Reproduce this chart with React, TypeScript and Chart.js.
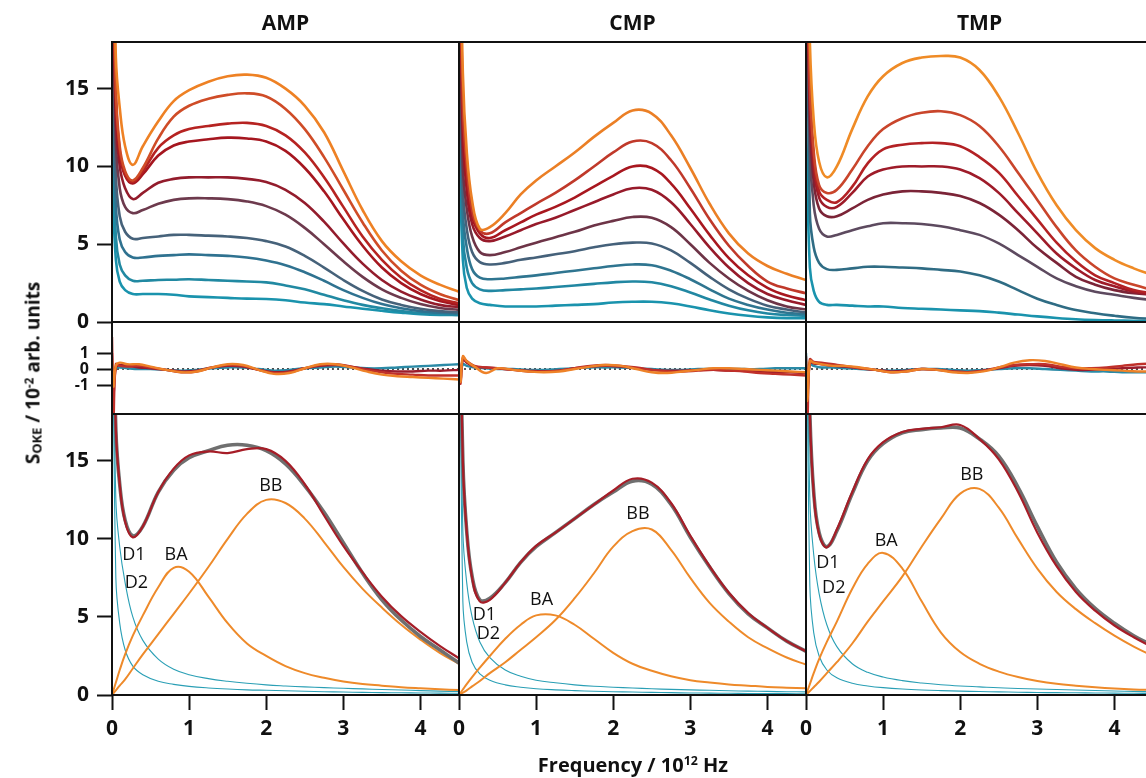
import React, { useEffect, useRef } from "react";
import { Chart, registerables } from "chart.js";

Chart.register(...registerables);

const FONT = "'Open Sans', 'DejaVu Sans', sans-serif";

// ---------- shared axes ----------
const freqGrid = [0, 0.05, 0.1, 0.17, 0.27, 0.4, 0.6, 0.8, 1.0, 1.25, 1.5, 1.75, 2.0, 2.25, 2.5, 2.75, 3.0, 3.25, 3.5, 3.75, 4.0, 4.25, 4.5];
const residGrid = [0, 0.02, 0.05, 0.1, 0.2, 0.35, 0.5, 0.7, 0.9, 1.1, 1.3, 1.5, 1.7, 1.9, 2.1, 2.3, 2.5, 2.7, 2.9, 3.1, 3.3, 3.5, 3.7, 3.9, 4.1, 4.3, 4.5];
const freqTicks = [0, 1, 2, 3, 4];
const sokeTicks = [0, 5, 10, 15];
const residTicks = [-1, 0, 1];
const compounds = ["AMP", "CMP", "TMP"];

// ---------- AMP spectra (bottom -> top) ----------
const amp1 = [9.5, 4.0, 2.6, 2.05, 1.8, 1.8, 1.8, 1.75, 1.65, 1.6, 1.55, 1.5, 1.48, 1.4, 1.25, 1.15, 1.0, 0.85, 0.72, 0.6, 0.5, 0.45, 0.45];
const amp2 = [13, 5.5, 3.7, 3.0, 2.65, 2.65, 2.7, 2.72, 2.75, 2.7, 2.65, 2.6, 2.55, 2.35, 2.1, 1.75, 1.4, 1.1, 0.88, 0.7, 0.57, 0.5, 0.45];
const amp3 = [17, 7.5, 5.3, 4.5, 4.15, 4.15, 4.25, 4.3, 4.35, 4.3, 4.25, 4.15, 3.95, 3.65, 3.2, 2.65, 2.05, 1.55, 1.15, 0.88, 0.7, 0.6, 0.55];
const amp4 = [22, 9.5, 6.8, 5.8, 5.35, 5.4, 5.5, 5.6, 5.6, 5.55, 5.5, 5.4, 5.2, 4.85, 4.25, 3.5, 2.7, 2.0, 1.45, 1.1, 0.85, 0.7, 0.62];
const amp5 = [25, 11.5, 8.6, 7.4, 7.0, 7.2, 7.6, 7.85, 7.95, 7.95, 7.9, 7.75, 7.45, 6.9, 6.05, 5.0, 3.9, 2.9, 2.1, 1.55, 1.15, 0.9, 0.78];
const amp6 = [28, 13, 10, 8.6, 7.9, 8.3, 8.95, 9.2, 9.3, 9.3, 9.3, 9.2, 9.0, 8.5, 7.65, 6.45, 5.05, 3.75, 2.7, 1.95, 1.45, 1.1, 0.95];
const amp7 = [30, 14, 10.8, 9.4, 8.9, 9.5, 10.7, 11.35, 11.6, 11.75, 11.85, 11.8, 11.6, 11.0, 9.9, 8.4, 6.6, 4.9, 3.5, 2.5, 1.8, 1.35, 1.1];
const amp8 = [30, 14.5, 11, 9.5, 9.0, 9.7, 11.2, 12.0, 12.4, 12.6, 12.75, 12.8, 12.6, 12.0, 10.9, 9.3, 7.4, 5.5, 4.0, 2.85, 2.05, 1.5, 1.2];
const amp9 = [30, 15, 11.3, 9.7, 9.1, 9.9, 11.8, 13.2, 13.9, 14.35, 14.6, 14.7, 14.5, 13.7, 12.4, 10.6, 8.5, 6.4, 4.6, 3.3, 2.4, 1.8, 1.4];
const amp10 = [30, 17, 13.8, 11.3, 10.1, 11.3, 12.9, 14.2, 14.9, 15.45, 15.8, 15.9, 15.7, 15.0, 13.9, 12.2, 9.7, 7.2, 5.2, 3.9, 3.0, 2.4, 1.95];
const ampColors = ["#1a93ad", "#2189a2", "#2f7290", "#46627a", "#6d3a4d", "#931c2c", "#a5161f", "#b62321", "#cf4c27", "#ee8124"];

// ---------- CMP spectra ----------
const cmp1 = [12, 4.0, 2.2, 1.5, 1.2, 1.1, 1.0, 1.0, 1.0, 1.05, 1.1, 1.15, 1.25, 1.3, 1.3, 1.2, 1.0, 0.75, 0.55, 0.4, 0.3, 0.25, 0.25];
const cmp2 = [15, 5.5, 3.5, 2.5, 2.1, 2.0, 2.05, 2.1, 2.15, 2.25, 2.35, 2.45, 2.55, 2.6, 2.55, 2.3, 1.9, 1.45, 1.05, 0.75, 0.55, 0.45, 0.4];
const cmp3 = [18, 7.0, 4.8, 3.4, 2.85, 2.75, 2.8, 2.9, 3.0, 3.15, 3.3, 3.45, 3.6, 3.7, 3.65, 3.3, 2.75, 2.1, 1.5, 1.1, 0.8, 0.6, 0.5];
const cmp4 = [22, 8.5, 6.0, 4.5, 3.85, 3.7, 3.8, 4.0, 4.15, 4.35, 4.55, 4.8, 5.0, 5.1, 5.05, 4.6, 3.8, 2.9, 2.1, 1.5, 1.05, 0.8, 0.6];
const cmp5 = [25, 10, 7.3, 5.5, 4.5, 4.3, 4.5, 4.8, 5.1, 5.45, 5.8, 6.2, 6.5, 6.75, 6.7, 6.1, 5.0, 3.8, 2.8, 2.0, 1.4, 1.0, 0.8];
const cmp6 = [30, 12, 8.5, 6.3, 5.4, 5.2, 5.5, 5.9, 6.3, 6.7, 7.2, 7.7, 8.2, 8.6, 8.5, 7.7, 6.3, 4.8, 3.5, 2.5, 1.8, 1.4, 1.1];
const cmp7 = [30, 13, 9.3, 6.8, 5.7, 5.4, 5.9, 6.4, 6.9, 7.4, 8.0, 8.7, 9.4, 10.0, 9.9, 8.9, 7.3, 5.6, 4.1, 3.0, 2.2, 1.7, 1.4];
const cmp8 = [30, 14, 10, 7.2, 5.9, 5.7, 6.4, 7.0, 7.6, 8.3, 9.1, 10.0, 10.9, 11.6, 11.5, 10.4, 8.6, 6.6, 4.9, 3.6, 2.6, 2.15, 1.85];
const cmp9 = [30, 16, 11, 7.8, 6.0, 6.1, 7.0, 8.2, 9.1, 10.0, 10.9, 11.9, 12.8, 13.6, 13.4, 12.0, 9.9, 7.6, 5.7, 4.4, 3.6, 3.1, 2.7];
const cmpColors = ["#1a93ad", "#2187a2", "#2f7590", "#45617a", "#6d3447", "#971a2a", "#a8171f", "#c0392a", "#eb7f25"];

// ---------- TMP spectra ----------
const tmp1 = [13, 3.5, 2.0, 1.3, 1.1, 1.1, 1.05, 1.0, 1.0, 0.9, 0.85, 0.8, 0.75, 0.7, 0.6, 0.48, 0.36, 0.26, 0.18, 0.13, 0.1, 0.08, 0.06];
const tmp2 = [30, 7.0, 4.8, 3.8, 3.4, 3.35, 3.45, 3.55, 3.55, 3.5, 3.45, 3.35, 3.25, 3.0, 2.6, 2.05, 1.5, 1.1, 0.77, 0.56, 0.4, 0.27, 0.2];
const tmp3 = [30, 11, 7.5, 6.0, 5.5, 5.6, 5.9, 6.15, 6.35, 6.35, 6.3, 6.15, 5.9, 5.6, 5.05, 4.3, 3.55, 2.8, 2.3, 1.95, 1.75, 1.55, 1.4];
const tmp4 = [30, 13, 9.0, 7.3, 6.8, 6.8, 7.3, 7.85, 8.2, 8.4, 8.4, 8.3, 8.1, 7.65, 6.9, 5.9, 4.75, 3.8, 2.9, 2.4, 2.05, 1.85, 1.75];
const tmp5 = [30, 14, 10.0, 8.0, 7.4, 7.4, 8.3, 9.35, 9.8, 10.0, 10.0, 10.0, 9.8, 9.25, 8.3, 7.0, 5.7, 4.4, 3.45, 2.7, 2.3, 1.95, 1.75];
const tmp6 = [30, 15, 10.5, 8.4, 7.85, 7.7, 8.7, 10.2, 11.1, 11.4, 11.5, 11.5, 11.3, 10.6, 9.6, 8.1, 6.6, 5.1, 3.9, 3.0, 2.5, 2.05, 1.85];
const tmp7 = [30, 15.5, 11.0, 8.8, 8.3, 8.5, 9.8, 11.3, 12.4, 13.1, 13.45, 13.55, 13.3, 12.6, 11.3, 9.6, 7.85, 6.1, 4.6, 3.55, 2.8, 2.4, 2.05];
const tmp8 = [30, 18, 13.0, 10.3, 9.3, 10.0, 12.4, 14.5, 15.8, 16.65, 17.0, 17.1, 17.0, 16.2, 14.5, 12.15, 9.6, 7.5, 5.9, 4.75, 4.0, 3.45, 3.0];
const tmpColors = ["#1a93ad", "#2f6c84", "#5d4a5f", "#7b2437", "#9e1b29", "#b32124", "#c9452b", "#ef8b26"];

// ---------- residuals ----------
const ampResTeal = [0.5, -0.5, 0.05, 0.1, 0.05, 0.0, 0.0, -0.05, -0.1, -0.05, 0.05, 0.1, 0.1, 0.0, -0.1, -0.05, 0.05, 0.1, 0.15, 0.1, 0.05, 0.05, 0.1, 0.15, 0.2, 0.25, 0.3];
const ampResDark = [1.0, -1.5, 0.1, 0.25, 0.2, 0.1, 0.05, -0.05, -0.15, -0.1, 0.1, 0.2, 0.15, -0.05, -0.2, -0.15, 0.05, 0.2, 0.25, 0.15, 0.0, -0.1, -0.15, -0.15, -0.1, -0.1, -0.05];
const ampResRed = [2.0, -2.9, 0.3, 0.2, 0.15, 0.2, 0.1, -0.05, -0.2, -0.15, 0.1, 0.25, 0.2, -0.05, -0.25, -0.2, 0.05, 0.25, 0.3, 0.15, -0.05, -0.2, -0.3, -0.35, -0.4, -0.4, -0.4];
const ampResOrange = [0.5, -1.1, 0.2, 0.4, 0.3, 0.3, 0.15, -0.05, -0.2, -0.15, 0.1, 0.3, 0.25, -0.05, -0.3, -0.25, 0.05, 0.3, 0.3, 0.1, -0.15, -0.35, -0.45, -0.5, -0.55, -0.6, -0.65];

const cmpResTeal = [0.1, -0.3, 0.3, 0.2, 0.1, 0.05, 0.0, 0.0, -0.05, -0.05, 0.0, 0.05, 0.1, 0.1, 0.1, 0.05, 0.0, -0.05, -0.05, 0.0, 0.0, 0.0, 0.0, 0.0, 0.05, 0.05, 0.05];
const cmpResDark = [-0.3, -0.7, 0.6, 0.4, 0.15, 0.1, 0.05, -0.05, -0.1, -0.15, -0.1, 0.05, 0.15, 0.2, 0.15, 0.05, -0.05, -0.1, -0.1, -0.05, -0.05, -0.1, -0.1, -0.15, -0.2, -0.2, -0.25];
const cmpResRed = [-0.5, -0.9, 0.7, 0.5, 0.2, 0.1, 0.05, -0.05, -0.15, -0.15, -0.1, 0.05, 0.2, 0.25, 0.2, 0.1, -0.05, -0.15, -0.15, -0.1, -0.05, -0.1, -0.15, -0.25, -0.3, -0.35, -0.4];
const cmpResOrange = [0.3, -0.8, 0.8, 0.5, 0.15, -0.25, 0.05, -0.05, -0.15, -0.2, -0.15, 0.0, 0.15, 0.25, 0.2, 0.0, -0.2, -0.25, -0.15, -0.05, 0.05, 0.05, 0.0, -0.05, -0.1, -0.15, -0.2];

const tmpResTeal = [1.0, -1.0, 0.3, 0.2, 0.1, 0.1, 0.05, 0.0, -0.05, -0.1, -0.05, 0.0, 0.0, -0.05, -0.1, -0.05, 0.0, 0.05, 0.05, 0.0, -0.05, -0.1, -0.15, -0.15, -0.2, -0.2, -0.2];
const tmpResDark = [0.3, -1.5, 0.4, 0.35, 0.3, 0.2, 0.15, 0.05, -0.05, -0.15, -0.1, 0.0, -0.05, -0.15, -0.2, -0.1, 0.05, 0.2, 0.25, 0.2, 0.05, -0.05, -0.05, 0.0, 0.05, 0.1, 0.1];
const tmpResRed = [0.8, -2.8, 0.6, 0.45, 0.4, 0.3, 0.2, 0.05, -0.05, -0.2, -0.15, 0.0, -0.05, -0.15, -0.2, -0.1, 0.1, 0.25, 0.3, 0.3, 0.15, 0.05, 0.05, 0.1, 0.2, 0.3, 0.35];
const tmpResOrange = [0.5, -2.0, 0.5, 0.4, 0.3, 0.2, 0.2, 0.1, -0.05, -0.2, -0.15, 0.0, -0.05, -0.2, -0.25, -0.15, 0.1, 0.4, 0.55, 0.5, 0.3, 0.1, 0.0, -0.05, -0.1, -0.15, -0.15];
const residZero = [0, 0, 0, 0, 0, 0, 0, 0, 0, 0, 0, 0, 0, 0, 0, 0, 0, 0, 0, 0, 0, 0, 0, 0, 0, 0, 0];
const residColors = ["#2a8aa6", "#9b1c2c", "#c0302a", "#ee8228"];

// ---------- fit decomposition ----------
const ampExp = [30, 17, 13.5, 11.2, 10.2, 10.8, 13.0, 14.4, 15.2, 15.65, 16.0, 16.0, 15.65, 14.8, 13.4, 11.7, 9.75, 7.8, 6.1, 4.8, 3.75, 2.9, 2.05];
const ampFit = [30, 17, 13.5, 11.1, 10.1, 10.8, 13.0, 14.5, 15.35, 15.6, 15.5, 15.75, 15.75, 15.0, 13.5, 11.5, 9.55, 7.85, 6.3, 5.05, 4.05, 3.15, 2.35];
const ampD1 = [30, 12.5, 9.5, 7.2, 5.0, 3.5, 2.3, 1.65, 1.3, 1.05, 0.88, 0.75, 0.65, 0.58, 0.52, 0.47, 0.43, 0.39, 0.35, 0.32, 0.28, 0.25, 0.22];
const ampD2 = [30, 7.5, 4.6, 2.9, 1.85, 1.3, 0.88, 0.68, 0.55, 0.45, 0.38, 0.33, 0.3, 0.27, 0.24, 0.21, 0.19, 0.17, 0.15, 0.14, 0.13, 0.12, 0.11];
const ampBA = [0, 0.8, 1.6, 2.6, 3.8, 5.1, 6.9, 8.15, 7.9, 6.3, 4.6, 3.3, 2.5, 1.85, 1.4, 1.1, 0.86, 0.7, 0.6, 0.5, 0.43, 0.37, 0.32];
const ampBB = [0, 0.3, 0.6, 1.0, 1.7, 2.6, 3.9, 5.2, 6.5, 8.2, 10.0, 11.6, 12.5, 12.3, 11.3, 9.8, 8.2, 6.8, 5.6, 4.5, 3.55, 2.7, 2.0];

const cmpExp = [30, 15, 10.5, 7.6, 6.1, 6.2, 7.2, 8.5, 9.5, 10.4, 11.3, 12.2, 13.0, 13.7, 13.5, 12.2, 10.1, 8.2, 6.5, 5.2, 4.3, 3.45, 2.8];
const cmpFit = [30, 15, 10.5, 7.5, 6.0, 6.1, 7.2, 8.5, 9.55, 10.4, 11.3, 12.2, 13.1, 13.85, 13.6, 12.3, 10.2, 8.25, 6.55, 5.25, 4.3, 3.45, 2.8];
const cmpD1 = [30, 10.5, 7.2, 5.0, 3.4, 2.4, 1.6, 1.2, 0.95, 0.78, 0.65, 0.56, 0.5, 0.45, 0.4, 0.36, 0.33, 0.3, 0.27, 0.25, 0.23, 0.21, 0.2];
const cmpD2 = [30, 6.0, 3.4, 2.1, 1.35, 0.95, 0.65, 0.5, 0.4, 0.33, 0.28, 0.24, 0.21, 0.19, 0.17, 0.15, 0.13, 0.12, 0.11, 0.1, 0.09, 0.085, 0.08];
const cmpBA = [0, 0.35, 0.7, 1.15, 1.75, 2.5, 3.6, 4.5, 5.1, 5.1, 4.5, 3.6, 2.7, 2.0, 1.55, 1.2, 0.95, 0.8, 0.68, 0.6, 0.52, 0.47, 0.43];
const cmpBB = [0, 0.15, 0.3, 0.55, 0.9, 1.4, 2.1, 2.9, 3.7, 4.8, 6.2, 7.8, 9.5, 10.5, 10.6, 9.3, 7.5, 5.9, 4.7, 3.7, 3.0, 2.4, 1.95];

const tmpExp = [30, 18, 13.0, 10.4, 9.5, 10.5, 12.9, 15.0, 16.1, 16.8, 17.0, 17.1, 17.1, 16.4, 15.3, 13.3, 10.8, 8.5, 6.8, 5.55, 4.6, 3.8, 3.15];
const tmpFit = [30, 18, 12.9, 10.3, 9.45, 10.6, 13.0, 15.1, 16.2, 16.85, 17.05, 17.15, 17.3, 16.4, 15.1, 13.0, 10.4, 8.25, 6.6, 5.4, 4.45, 3.7, 3.05];
const tmpD1 = [30, 12.5, 9.0, 6.5, 4.5, 3.1, 2.0, 1.45, 1.15, 0.92, 0.77, 0.66, 0.58, 0.52, 0.46, 0.42, 0.38, 0.35, 0.32, 0.29, 0.26, 0.23, 0.2];
const tmpD2 = [30, 7.0, 4.0, 2.5, 1.6, 1.1, 0.75, 0.58, 0.47, 0.38, 0.32, 0.28, 0.25, 0.22, 0.2, 0.18, 0.16, 0.15, 0.14, 0.13, 0.12, 0.11, 0.1];
const tmpBA = [0, 0.7, 1.4, 2.3, 3.4, 4.7, 6.8, 8.4, 9.1, 8.1, 6.0, 4.0, 2.75, 2.0, 1.5, 1.15, 0.9, 0.72, 0.6, 0.5, 0.42, 0.36, 0.32];
const tmpBB = [0, 0.25, 0.5, 0.85, 1.4, 2.1, 3.3, 4.7, 6.0, 7.6, 9.5, 11.3, 12.9, 13.2, 12.0, 10.0, 8.1, 6.6, 5.5, 4.6, 3.8, 3.1, 2.5];

// component label anchors (data units)
const ampNotes = [
  { text: "D1", x: 0.285, y: 9.0 },
  { text: "D2", x: 0.317, y: 7.2 },
  { text: "BA", x: 0.83, y: 9.0 },
  { text: "BB", x: 2.06, y: 13.4 },
];
const cmpNotes = [
  { text: "D1", x: 0.33, y: 5.15 },
  { text: "D2", x: 0.38, y: 3.9 },
  { text: "BA", x: 1.07, y: 6.1 },
  { text: "BB", x: 2.32, y: 11.6 },
];
const tmpNotes = [
  { text: "D1", x: 0.285, y: 8.47 },
  { text: "D2", x: 0.36, y: 6.86 },
  { text: "BA", x: 1.04, y: 9.9 },
  { text: "BB", x: 2.15, y: 14.07 },
];

const EXP_COLOR = "#6f6f6f";
const FIT_COLOR = "#a61d27";
const COMP_ORANGE = "#ee8a2a";
const COMP_TEAL = "#2a9fb5";

type Line = { values: number[]; color: string; width: number; dash?: number[] };
type Note = { text: string; x: number; y: number };
type Spec = {
  left: number; top: number; width: number; height: number;
  grid: number[]; lines: Line[];
  yMin: number; yMax: number; yTicks: number[];
  yLabels: boolean; xLabels: boolean; yFont: number;
  notes?: Note[];
};

function Panel({ spec }: { spec: Spec }) {
  const ref = useRef<HTMLCanvasElement | null>(null);
  const padL = spec.yLabels ? 100 : 20;
  const padR = 12;
  const padT = 26;
  const padB = spec.xLabels ? 64 : 26;
  const cw = spec.width + padL + padR;
  const ch = spec.height + padT + padB;

  useEffect(() => {
    const canvas = ref.current;
    if (!canvas) return;
    const frame = {
      id: "frame",
      afterDraw(chart: any) {
        const { ctx, chartArea: a } = chart;
        ctx.save();
        ctx.strokeStyle = "#111";
        ctx.lineWidth = 2;
        ctx.strokeRect(a.left, a.top, a.right - a.left, a.bottom - a.top);
        ctx.restore();
      },
    };
    const notes = {
      id: "notes",
      afterDatasetsDraw(chart: any) {
        if (!spec.notes) return;
        const { ctx, scales } = chart;
        ctx.save();
        ctx.fillStyle = "#111";
        ctx.font = `18px ${FONT}`;
        ctx.textAlign = "center";
        ctx.textBaseline = "middle";
        for (const n of spec.notes) {
          ctx.fillText(n.text, scales.x.getPixelForValue(n.x), scales.y.getPixelForValue(n.y));
        }
        ctx.restore();
      },
    };
    const chart = new Chart(canvas, {
      type: "line",
      data: {
        datasets: spec.lines.map((l) => ({
          data: spec.grid.map((x, i) => ({ x, y: l.values[i] })),
          borderColor: l.color,
          borderWidth: l.width,
          borderDash: l.dash || [],
          pointRadius: 0,
          fill: false,
          tension: 0.4,
          borderJoinStyle: "round",
        })),
      } as any,
      options: {
        responsive: false,
        animation: false,
        devicePixelRatio: 1,
        events: [],
        layout: { padding: { left: 0, right: padR, top: padT, bottom: 0 } },
        plugins: { legend: { display: false }, tooltip: { enabled: false } },
        scales: {
          x: {
            type: "linear",
            min: 0,
            max: 4.5,
            afterBuildTicks: (s: any) => { s.ticks = freqTicks.map((v) => ({ value: v })); },
            afterFit: (s: any) => { s.height = padB; },
            border: { display: false },
            grid: { drawOnChartArea: false, drawTicks: spec.xLabels, tickLength: 15, tickWidth: 2, tickColor: "#111" },
            ticks: { display: spec.xLabels, color: "#111", padding: 6, maxRotation: 0, autoSkip: false, font: { family: FONT, size: 21, weight: "bold" } },
          },
          y: {
            type: "linear",
            min: spec.yMin,
            max: spec.yMax,
            afterBuildTicks: (s: any) => { s.ticks = spec.yTicks.map((v) => ({ value: v })); },
            afterFit: (s: any) => { s.width = padL; },
            border: { display: false },
            grid: { drawOnChartArea: false, drawTicks: spec.yLabels, tickLength: 15, tickWidth: 2, tickColor: "#111" },
            ticks: { display: spec.yLabels, color: "#111", padding: 8, autoSkip: false, font: { family: FONT, size: spec.yFont, weight: "bold" }, callback: (v: any) => String(v) },
          },
        },
      } as any,
      plugins: [frame, notes],
    });
    return () => chart.destroy();
  }, []);

  return (
    <canvas
      ref={ref}
      width={cw}
      height={ch}
      style={{ position: "absolute", left: spec.left - padL, top: spec.top - padT, width: cw, height: ch }}
    />
  );
}

const COL_LEFT = [112, 459, 806];
const COL_W = 347;
const ROW_TOP = { top: 42, mid: 322, bot: 414 };
const ROW_H = { top: 280, mid: 92, bot: 281 };

const spectraSets = [
  { series: [amp1, amp2, amp3, amp4, amp5, amp6, amp7, amp8, amp9, amp10], colors: ampColors },
  { series: [cmp1, cmp2, cmp3, cmp4, cmp5, cmp6, cmp7, cmp8, cmp9], colors: cmpColors },
  { series: [tmp1, tmp2, tmp3, tmp4, tmp5, tmp6, tmp7, tmp8], colors: tmpColors },
];
const residSets = [
  [ampResTeal, ampResDark, ampResRed, ampResOrange],
  [cmpResTeal, cmpResDark, cmpResRed, cmpResOrange],
  [tmpResTeal, tmpResDark, tmpResRed, tmpResOrange],
];
const fitSets = [
  { exp: ampExp, fit: ampFit, d1: ampD1, d2: ampD2, ba: ampBA, bb: ampBB, notes: ampNotes },
  { exp: cmpExp, fit: cmpFit, d1: cmpD1, d2: cmpD2, ba: cmpBA, bb: cmpBB, notes: cmpNotes },
  { exp: tmpExp, fit: tmpFit, d1: tmpD1, d2: tmpD2, ba: tmpBA, bb: tmpBB, notes: tmpNotes },
];

function buildSpecs(): Spec[] {
  const specs: Spec[] = [];
  for (let c = 0; c < 3; c++) {
    const left = COL_LEFT[c];
    const first = c === 0;
    const sp = spectraSets[c];
    const topLines: Line[] = sp.series
      .map((values, i) => ({ values, color: sp.colors[i], width: 2.6 }))
      .reverse();
    specs.push({
      left, top: ROW_TOP.top, width: COL_W, height: ROW_H.top,
      grid: freqGrid, lines: topLines, yMin: 0, yMax: 18, yTicks: sokeTicks,
      yLabels: first, xLabels: false, yFont: 21,
    });
    const rs = residSets[c];
    const midLines: Line[] = rs
      .map((values, i) => ({ values, color: residColors[i], width: 2.4 }))
      .reverse();
    midLines.push({ values: residZero, color: "#111", width: 1.6, dash: [2, 3] });
    specs.push({
      left, top: ROW_TOP.mid, width: COL_W, height: ROW_H.mid,
      grid: residGrid, lines: midLines, yMin: -2.81, yMax: 2.94, yTicks: residTicks,
      yLabels: first, xLabels: false, yFont: 16,
    });
    const f = fitSets[c];
    const botLines: Line[] = [
      { values: f.fit, color: FIT_COLOR, width: 2.2 },
      { values: f.exp, color: EXP_COLOR, width: 3.6 },
      { values: f.bb, color: COMP_ORANGE, width: 2 },
      { values: f.ba, color: COMP_ORANGE, width: 2 },
      { values: f.d1, color: COMP_TEAL, width: 1.1 },
      { values: f.d2, color: COMP_TEAL, width: 1.1 },
    ];
    specs.push({
      left, top: ROW_TOP.bot, width: COL_W, height: ROW_H.bot,
      grid: freqGrid, lines: botLines, yMin: 0, yMax: 18, yTicks: sokeTicks,
      yLabels: first, xLabels: true, yFont: 21, notes: f.notes,
    });
  }
  return specs;
}

export default function App() {
  const specs = buildSpecs();
  return (
    <div style={{ position: "fixed", left: 0, top: 0, width: 1146, height: 778, overflow: "hidden", background: "#fff", fontFamily: FONT }}>
      {specs.map((s, i) => (
        <Panel key={i} spec={s} />
      ))}
      {compounds.map((name, c) => (
        <div
          key={name}
          style={{
            position: "absolute", left: COL_LEFT[c] + COL_W / 2, top: 22,
            transform: "translate(-50%, -50%)", font: `bold 21px ${FONT}`, color: "#111", whiteSpace: "nowrap", lineHeight: 1,
          }}
        >
          {name}
        </div>
      ))}
      <div
        style={{
          position: "absolute", left: 33, top: 373,
          transform: "translate(-50%, -50%) rotate(-90deg)", font: `bold 19px ${FONT}`, color: "#111", whiteSpace: "nowrap", lineHeight: 1,
        }}
      >
        S<span style={{ fontSize: "0.68em", position: "relative", top: "0.12em" }}>OKE</span> / 10
        <span style={{ fontSize: "0.62em", position: "relative", top: "-0.55em" }}>-2</span> arb. units
      </div>
      <div
        style={{
          position: "absolute", left: 633, top: 765,
          transform: "translate(-50%, -50%)", font: `bold 20px ${FONT}`, color: "#111", whiteSpace: "nowrap", lineHeight: 1,
        }}
      >
        Frequency / 10<span style={{ fontSize: "0.62em", position: "relative", top: "-0.55em" }}>12</span> Hz
      </div>
    </div>
  );
}
